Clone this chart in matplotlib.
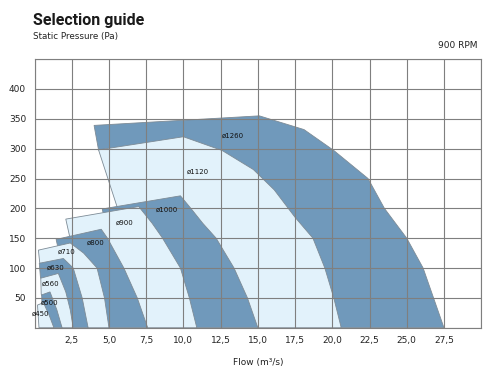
import numpy as np
from matplotlib import pyplot as plt

# fan sizes, largest first (drawn first so smaller ones sit on top)
sizes = ["ø1260", "ø1120", "ø1000", "ø900", "ø800", "ø710", "ø630", "ø560", "ø500", "ø450"]

# outline of each region: top-left corner, top edge peak, then right curve down to y=0
outline_x = [
    [4.0, 15.1, 18.1, 20.1, 22.4, 23.5, 25.0, 26.1, 26.8, 27.5],
    [4.3, 10.0, 12.6, 14.7, 16.1, 17.5, 18.7, 19.5, 20.1, 20.6],
    [4.55, 9.8, 10.5, 11.3, 12.2, 13.4, 14.3, 15.0],
    [2.1, 7.0, 7.9, 8.6, 9.8, 10.4, 10.9],
    [1.45, 4.48, 4.9, 6.0, 6.9, 7.6],
    [0.26, 2.4, 3.3, 4.2, 4.7, 5.0],
    [0.32, 1.94, 2.6, 3.2, 3.6],
    [0.42, 1.6, 2.1, 2.4, 2.6],
    [0.48, 1.04, 1.5, 1.85],
    [0.2, 0.6, 1.0, 1.3],
]
outline_y = [
    [339, 355, 332, 297, 250, 200, 150, 100, 50, 0],
    [298, 320, 297, 265, 231, 185, 150, 100, 50, 0],
    [199, 221, 200, 175, 150, 100, 50, 0],
    [182, 203, 175, 150, 100, 50, 0],
    [148, 165, 150, 100, 50, 0],
    [130, 142, 125, 100, 50, 0],
    [108, 116, 100, 50, 0],
    [83, 91, 60, 30, 0],
    [55, 60, 30, 0],
    [38, 42, 20, 0],
]
# lower end of the visible left edge
left_low_x = [4.3, 5.54, 4.6, 2.35, 1.55, 0.35, 0.4, 0.45, 0.5, 0.3]
left_low_y = [298, 203, 193, 154, 137, 109, 84, 56, 40, 0]

label_x = [13.3, 10.97, 8.86, 6.03, 4.08, 2.17, 1.43, 1.09, 1.04, 0.42]
label_y = [322, 262, 197, 176, 142, 128, 101, 74, 41, 24]

x_ticks = [2.5, 5.0, 7.5, 10.0, 12.5, 15.0, 17.5, 20.0, 22.5, 25.0, 27.5]
y_ticks = [50, 100, 150, 200, 250, 300, 350, 400]

DARK = "#7099bb"
LIGHT = "#e2f2fb"

fig = plt.figure(figsize=(4.91, 3.72), dpi=100)
ax = fig.add_axes([0.0703, 0.119, 0.9097, 0.722])

for i, name in enumerate(sizes):
    xs = list(outline_x[i])
    ys = list(outline_y[i])
    if i + 1 < len(sizes):
        # hidden part runs under the next smaller region
        xs.append(outline_x[i + 1][-1])
        ys.append(0)
    xs.append(left_low_x[i])
    ys.append(left_low_y[i])
    ax.fill(xs, ys, facecolor=DARK if i % 2 == 0 else LIGHT,
            edgecolor="#7d8b96", linewidth=0.6, zorder=1)
    ax.text(label_x[i], label_y[i], name, fontsize=5, ha="center", va="center",
            color="#111111", zorder=4, clip_on=False)

ax.set_xlim(0, 30)
ax.set_ylim(0, 450)
ax.set_xticks(np.arange(0, 30.1, 2.5))
ax.set_xticklabels([""] + [f"{v:.1f}".replace(".", ",") for v in x_ticks] + [""])
ax.set_yticks(np.arange(0, 451, 50))
ax.set_yticklabels([""] + [str(v) for v in y_ticks] + [""])
ax.tick_params(length=0, labelsize=6.5, labelcolor="#222222", pad=6)
ax.set_axisbelow(False)
ax.grid(True, color="#7f7f7f", linewidth=0.8)
for spine in ax.spines.values():
    spine.set_color("#7f7f7f")
    spine.set_linewidth(0.8)

ax.set_xlabel("Flow (m³/s)", fontsize=6.5, color="#222222", labelpad=9)

fig.text(33 / 491, 1 - 25 / 372, "Selection guide", fontsize=11.5, fontweight="bold",
         family="Roboto", color="#1a1a1a", ha="left", va="baseline")
fig.text(33 / 491, 1 - 36 / 372, "Static Pressure (Pa)", fontsize=6.3,
         color="#222222", ha="left", va="center")
fig.text(478 / 491, 1 - 46 / 372, "900 RPM", fontsize=6.5,
         color="#222222", ha="right", va="center")

fig.savefig("out.png", dpi=100)
